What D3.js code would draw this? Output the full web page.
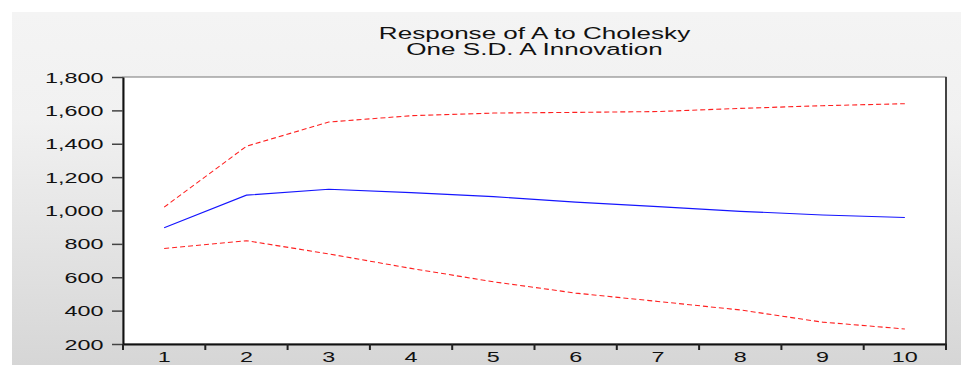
<!DOCTYPE html>
<html>
<head>
<meta charset="utf-8">
<script src="https://cdn.jsdelivr.net/npm/d3@7"></script>
<style>
  body { margin: 0; background: #fff; }
  svg { display: block; }
</style>
</head>
<body>
<div id="chart"></div>
<script>
// periods and impulse response values
const periods = ["1", "2", "3", "4", "5", "6", "7", "8", "9", "10"];
const response = [897, 1092, 1127, 1107, 1083, 1050, 1023, 995, 973, 958];
const upperBand = [1020, 1385, 1530, 1568, 1584, 1588, 1593, 1612, 1628, 1640];
const lowerBand = [772, 819, 740, 653, 573, 505, 455, 404, 331, 290];
const yTicks = [200, 400, 600, 800, 1000, 1200, 1400, 1600, 1800];
const titleLines = ["Response of A to Cholesky", "One S.D. A Innovation"];

const width = 961, height = 365;
const margin = {top: 77, right: 15, bottom: 21, left: 123};
const stretch = 1.67; // the picture's text is widened horizontally

const svg = d3.select("#chart")
  .append("svg")
  .attr("width", width)
  .attr("height", height)
  .style("font-family", "'Liberation Sans', Arial, sans-serif");

// grey panel background
const grad = svg.append("defs").append("linearGradient")
  .attr("id", "bg").attr("x1", 0).attr("x2", 0).attr("y1", 0).attr("y2", 1);
grad.append("stop").attr("offset", "0%").attr("stop-color", "#f4f4f4");
grad.append("stop").attr("offset", "30%").attr("stop-color", "#f1f1f1");
grad.append("stop").attr("offset", "100%").attr("stop-color", "#d6d6d6");

svg.append("rect")
  .attr("x", 12).attr("y", 12)
  .attr("width", width - 12).attr("height", height - 12)
  .attr("fill", "url(#bg)");

const x = d3.scaleBand()
  .domain(periods)
  .range([margin.left, width - margin.right])
  .paddingInner(0).paddingOuter(0);

const y = d3.scaleLinear()
  .domain([200, 1800])
  .range([height - margin.bottom, margin.top]);

const cx = d => x(d) + x.bandwidth() / 2;

// plot box
svg.append("rect")
  .attr("x", margin.left).attr("y", margin.top)
  .attr("width", width - margin.right - margin.left)
  .attr("height", height - margin.bottom - margin.top)
  .attr("fill", "#fff")
  .attr("stroke", "#777")
  .attr("stroke-width", 1);

// right border darker
svg.append("line")
  .attr("x1", width - margin.right).attr("x2", width - margin.right)
  .attr("y1", margin.top).attr("y2", height - margin.bottom)
  .attr("stroke", "#444").attr("stroke-width", 2);

// title
svg.append("g").selectAll("text")
  .data(titleLines)
  .join("text")
  .attr("transform", (d, i) => `translate(${(margin.left + width - margin.right) / 2},${39 + i * 15.5}) scale(${stretch},1)`)
  .attr("text-anchor", "middle")
  .style("font-size", "15.6px")
  .style("fill", "#111")
  .text(d => d);

// y axis
const yAxis = svg.append("g")
  .attr("transform", `translate(${margin.left},0)`)
  .call(d3.axisLeft(y).tickValues(yTicks).tickSize(11).tickSizeOuter(0).tickFormat(d3.format(",")));
yAxis.select(".domain").attr("stroke", "#111").attr("stroke-width", 2);
yAxis.selectAll(".tick line").attr("stroke", "#444").attr("stroke-width", 1.5);
yAxis.selectAll(".tick text")
  .attr("x", -19.5 / stretch)
  .attr("dy", "0.36em")
  .attr("transform", `scale(${stretch},1)`)
  .style("font-size", "14px")
  .style("font-family", "'Liberation Sans', Arial, sans-serif")
  .style("fill", "#111");

// x axis: labels at band centres, ticks at band edges
const xAxis = svg.append("g")
  .attr("transform", `translate(0,${height - margin.bottom})`)
  .call(d3.axisBottom(x).tickSize(0).tickSizeOuter(0));
xAxis.select(".domain").attr("stroke", "#111").attr("stroke-width", 2);
xAxis.selectAll(".tick text")
  .attr("y", 0)
  .attr("dy", 0)
  .attr("transform", `translate(0,17.8) scale(${stretch},1)`)
  .style("font-size", "14px")
  .style("font-family", "'Liberation Sans', Arial, sans-serif")
  .style("fill", "#111");

const edges = periods.map(d => x(d)).concat([x(periods[periods.length - 1]) + x.bandwidth()]);
xAxis.selectAll(".edge")
  .data(edges)
  .join("line")
  .attr("class", "edge")
  .attr("x1", d => d).attr("x2", d => d)
  .attr("y1", 0).attr("y2", 6)
  .attr("stroke", "#222").attr("stroke-width", 2);

// lines
const line = d3.line()
  .x((d, i) => cx(periods[i]))
  .y(d => y(d));

svg.append("path")
  .datum(upperBand)
  .attr("fill", "none")
  .attr("stroke", "#ff2020")
  .attr("stroke-width", 1.1)
  .attr("stroke-dasharray", "5,3")
  .attr("d", line);

svg.append("path")
  .datum(lowerBand)
  .attr("fill", "none")
  .attr("stroke", "#ff2020")
  .attr("stroke-width", 1.1)
  .attr("stroke-dasharray", "5,3")
  .attr("d", line);

svg.append("path")
  .datum(response)
  .attr("fill", "none")
  .attr("stroke", "#1515ff")
  .attr("stroke-width", 1.1)
  .attr("d", line);
</script>
</body>
</html>
